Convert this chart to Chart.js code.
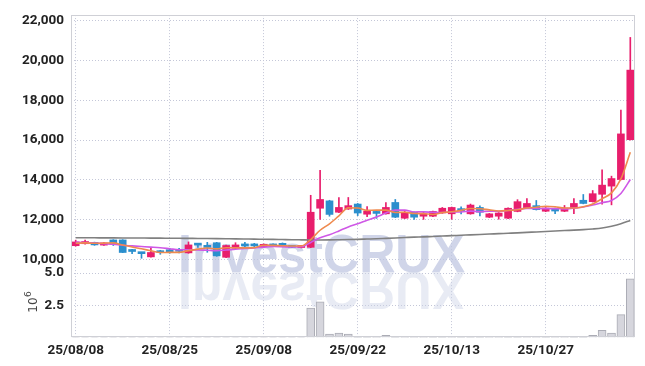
<!DOCTYPE html>
<html><head><meta charset="utf-8">
<script src="https://cdn.jsdelivr.net/npm/chart.js@4/dist/chart.umd.min.js"></script>
<style>html,body{margin:0;padding:0;background:#fff}#wrap{width:645px;height:366px;position:relative}</style>
</head><body><div id="wrap"><canvas id="c" width="645" height="366"></canvas></div>
<script>
const dates = ['25/08/08','25/08/11','25/08/12','25/08/13','25/08/14','25/08/18','25/08/19','25/08/20','25/08/21','25/08/22',
'25/08/25','25/08/26','25/08/27','25/08/28','25/08/29','25/09/01','25/09/02','25/09/03','25/09/04','25/09/05',
'25/09/08','25/09/09','25/09/10','25/09/11','25/09/12','25/09/15','25/09/16','25/09/17','25/09/18','25/09/19',
'25/09/22','25/09/23','25/09/24','25/09/25','25/09/26','25/09/29','25/09/30','25/10/01','25/10/02','25/10/10',
'25/10/13','25/10/14','25/10/15','25/10/16','25/10/17','25/10/20','25/10/21','25/10/22','25/10/23','25/10/24',
'25/10/27','25/10/28','25/10/29','25/10/30','25/10/31','25/11/03','25/11/04','25/11/05','25/11/06','25/11/07'];

const openP = [10700,10800,10870,10730,10990,10990,10430,10360,10140,10370,
10420,10440,10340,10750,10640,10850,10120,10570,10700,10710,
10660,10770,10820,10700,10610,10620,12580,12950,12380,12540,
12790,12280,12340,12300,12870,12080,12380,12180,12180,12350,
12300,12480,12300,12620,12130,12180,12080,12420,12610,12710,
12430,12570,12430,12590,12980,12910,13280,13690,14020,16020];
const highP = [10980,10980,10880,10860,11000,11000,10520,10370,10620,10470,
10570,10570,10890,10820,10870,10870,10730,10850,10870,10820,
10790,10790,10840,10720,10720,13230,14480,12980,13120,13120,
12820,12660,12430,12870,13020,12420,12400,12390,12440,12620,
12640,12650,12790,12700,12320,12360,12600,13010,13070,12970,
12610,12590,12720,13070,13270,13470,14510,14190,17510,21150];
const lowP = [10680,10780,10720,10710,10710,10350,10300,10070,10120,10270,
10320,10340,10320,10620,10370,10170,10100,10560,10570,10600,
10640,10680,10640,10600,10590,10600,12020,12180,12360,12520,
12210,12160,12070,12280,12110,12060,12020,12020,12160,12320,
12030,12300,12280,12190,12110,12030,12060,12400,12590,12490,
12410,12310,12410,12310,12800,12890,12790,12750,14000,16000];
const closeP = [10890,10910,10740,10840,10810,10360,10410,10300,10360,10350,
10400,10420,10740,10730,10620,10190,10710,10740,10690,10690,
10770,10690,10660,10620,10700,12380,13020,12270,12620,12710,
12340,12430,12320,12620,12130,12380,12130,12280,12420,12580,
12620,12460,12740,12380,12300,12340,12580,12910,12820,12510,
12590,12440,12590,12820,12820,13310,13740,14070,16310,19510];

const volume = [20000,15000,15000,15000,20000,30000,15000,15000,20000,15000,
15000,10000,20000,15000,15000,25000,20000,15000,10000,10000,
10000,10000,10000,15000,20000,2280000,2770000,270000,340000,270000,
100000,80000,60000,170000,80000,40000,40000,40000,100000,100000,
40000,100000,100000,100000,40000,40000,80000,80000,40000,40000,
80000,40000,40000,100000,100000,170000,550000,350000,1780000,4540000];

const ma5 = [10820,10840,10820,10830,10840,10732,10632,10544,10448,10356,
10364,10366,10454,10528,10582,10540,10598,10598,10590,10604,
10720,10716,10700,10686,10688,11010,11476,11798,12198,12600,
12592,12474,12484,12484,12368,12376,12316,12308,12268,12358,
12406,12472,12564,12556,12500,12444,12468,12502,12590,12632,
12682,12654,12590,12590,12652,12796,13056,13352,14050,15388];
const ma10 = [10880,10860,10830,10800,10770,10720,10690,10660,10630,10597,
10548,10499,10499,10488,10469,10452,10482,10526,10559,10593,
10630,10657,10649,10638,10646,10865,11096,11249,11442,11644,
11801,11975,12141,12341,12484,12484,12395,12396,12376,12363,
12391,12394,12436,12412,12429,12425,12470,12533,12573,12566,
12563,12561,12546,12590,12642,12739,12855,12971,13320,14020];
const ma60 = [11100,11098,11096,11094,11092,11090,11088,11085,11082,11080,
11075,11072,11068,11065,11060,11055,11050,11045,11038,11030,
11025,11018,11010,11002,10995,10988,10990,10995,11002,11010,
11020,11035,11050,11070,11090,11110,11130,11145,11165,11185,
11205,11225,11245,11265,11285,11305,11325,11345,11370,11390,
11415,11435,11460,11480,11505,11540,11590,11680,11800,11970];

const priceTicks = [10000,12000,14000,16000,18000,20000,22000];
const volTicks = [2500000,5000000];

const UP = '#e81e6c', DOWN = '#2b8fcd';
const candleColors = closeP.map((c,i)=> c >= openP[i] ? UP : DOWN);
const gridColor = '#c4c7d8';
const FONT = "Roboto, 'Liberation Sans', sans-serif";
const tickFont = {family:FONT, size:13.5, weight:'bold'};

const watermark = {
  id:'watermark',
  beforeDatasetsDraw(chart){
    const ctx = chart.ctx, a = chart.chartArea;
    const txt = 'InvestCRUX';
    const x0 = 178, base = 272, w = 287;
    ctx.save();
    ctx.beginPath(); ctx.rect(a.left, a.top, a.right-a.left, a.bottom-a.top); ctx.clip();
    ctx.font = "bold 53px 'Liberation Sans', Arial, sans-serif";
    const mw = ctx.measureText(txt).width;
    const sx = w / mw;
    ctx.textBaseline = 'alphabetic';
    ctx.save();
    ctx.translate(x0, base); ctx.scale(sx, 1);
    ctx.fillStyle = 'rgba(190,197,224,0.72)';
    ctx.fillText(txt, 0, 0);
    ctx.restore();
    ctx.save();
    ctx.translate(x0, base); ctx.scale(sx, -1);
    ctx.fillStyle = 'rgba(205,210,230,0.45)';
    ctx.fillText(txt, 0, 0);
    ctx.restore();
    ctx.restore();
  }
};
const frame = {
  id:'frame',
  afterDraw(chart){
    const ctx = chart.ctx, a = chart.chartArea;
    ctx.save();
    ctx.strokeStyle = '#cfd0d6'; ctx.lineWidth = 1;
    ctx.strokeRect(Math.round(a.left)+0.5, Math.round(a.top)+0.5, Math.round(a.right-a.left)-1, Math.round(a.bottom-a.top)-1);
    ctx.translate(34, 305);
    ctx.rotate(-Math.PI/2);
    ctx.fillStyle = '#444';
    ctx.font = "12px 'DejaVu Sans', sans-serif";
    ctx.textBaseline = 'middle';
    ctx.textAlign = 'center';
    ctx.fillText('10', 0, 0);
    ctx.font = "9px 'DejaVu Sans', sans-serif";
    ctx.textAlign = 'left';
    ctx.fillText('6', 8, -5);
    ctx.restore();
  }
};

new Chart(document.getElementById('c'), {
  type:'bar',
  data:{
    labels: dates,
    datasets:[
      {type:'line', label:'MA5', data: ma5, yAxisID:'y', borderColor:'#ef8a4e', borderWidth:1.6, pointRadius:0, cubicInterpolationMode:'monotone', order:0},
      {type:'line', label:'MA10', data: ma10, yAxisID:'y', borderColor:'#cf58e6', borderWidth:1.6, pointRadius:0, cubicInterpolationMode:'monotone', order:0},
      {type:'line', label:'MA60', data: ma60, yAxisID:'y', borderColor:'#808080', borderWidth:1.6, pointRadius:0, cubicInterpolationMode:'monotone', order:0},
      {label:'body', data: openP.map((o,i)=>[o, closeP[i]]), yAxisID:'y', backgroundColor: candleColors, barThickness:7, minBarLength:2, grouped:false, order:1},
      {label:'wick', data: lowP.map((l,i)=>[l, highP[i]]), yAxisID:'y', backgroundColor: candleColors, barThickness:1, grouped:false, order:2},
      {label:'volume', data: volume, yAxisID:'yv', backgroundColor:'#d6d6dd', borderColor:'#abacb5', borderWidth:1, barThickness:8, grouped:false, order:3}
    ]
  },
  options:{
    responsive:false, animation:false, devicePixelRatio:1,
    layout:{padding:{top:9, right:10, left:0, bottom:0}},
    plugins:{legend:{display:false}, tooltip:{enabled:false}},
    scales:{
      x:{
        type:'category', offset:true,
        grid:{offset:false, drawTicks:false, color:(c)=> (c.index % 10 === 0 ? gridColor : 'rgba(0,0,0,0)')},
        border:{display:false, dash:[1,2]},
        ticks:{autoSkip:false, maxRotation:0, minRotation:0, padding:5, color:'#222', font:tickFont,
          callback:function(v,i){ return i % 10 === 0 ? this.getLabelForValue(v) : ''; }},
        afterFit:(s)=>{ s.height = 28.5; }
      },
      yv:{
        type:'linear', position:'left', stack:'main', stackWeight:1, min:0, max:5000000,
        afterBuildTicks:(s)=>{ s.ticks = volTicks.map(v=>({value:v})); },
        afterFit:(s)=>{ s.width = 71; },
        grid:{color:gridColor, drawTicks:false},
        border:{display:false, dash:[1,2]},
        ticks:{padding:7, color:'#222', font:tickFont, callback:(v)=> (v/1e6).toFixed(1)}
      },
      y:{
        type:'linear', position:'left', stack:'main', stackWeight:4, min:9330, max:22270,
        afterBuildTicks:(s)=>{ s.ticks = priceTicks.map(v=>({value:v})); },
        afterFit:(s)=>{ s.width = 71; },
        grid:{color:gridColor, drawTicks:false},
        border:{display:false, dash:[1,2]},
        ticks:{padding:7, color:'#222', font:tickFont, callback:(v)=> Number(v).toLocaleString('en-US')}
      }
    }
  },
  plugins:[watermark, frame]
});
</script>
</body></html>
